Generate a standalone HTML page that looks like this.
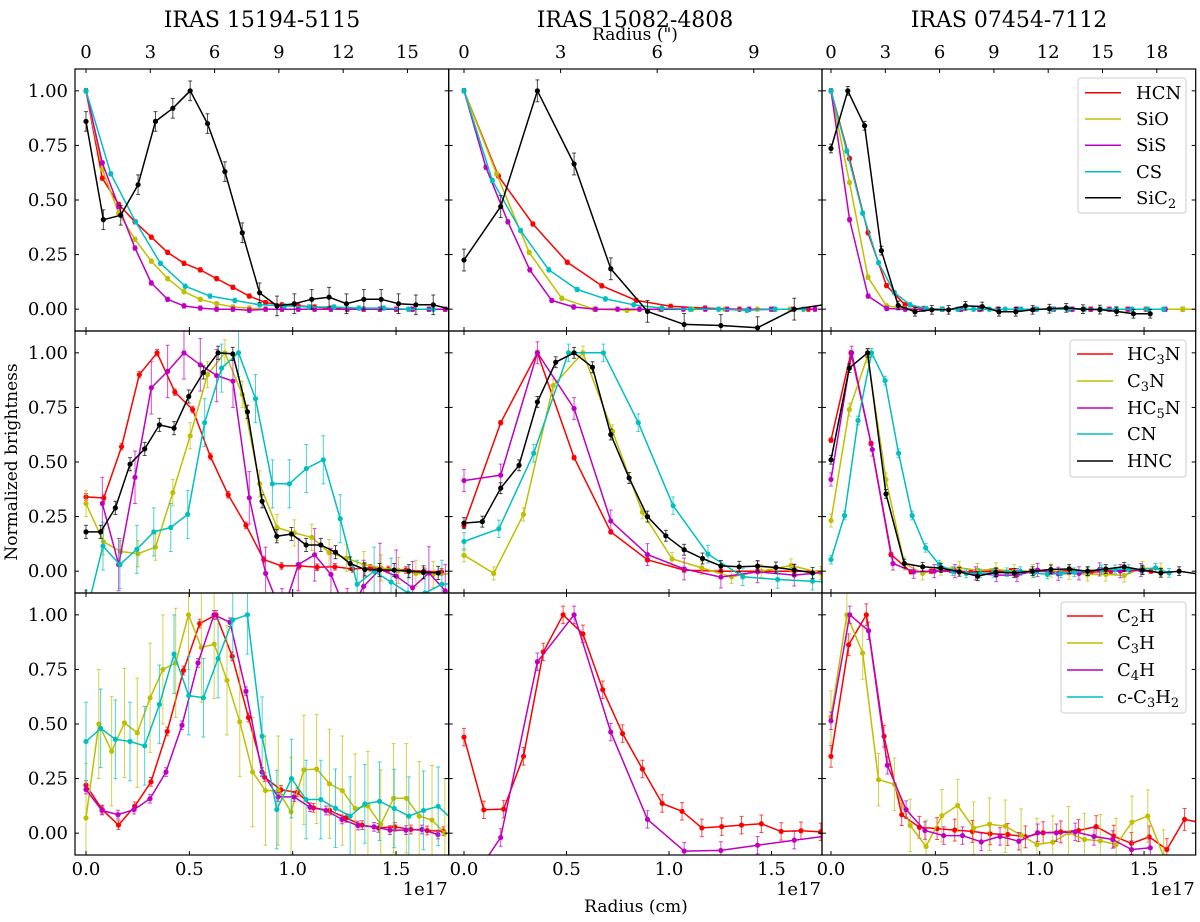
<!DOCTYPE html>
<html><head><meta charset="utf-8"><style>
body{margin:0;background:#fff}
svg text{font-family:"DejaVu Serif","Liberation Serif",serif;fill:#000}
</style></head><body>
<svg id="fig" width="1200" height="917" viewBox="0 0 1200 917" xmlns="http://www.w3.org/2000/svg">
<defs id="defs"></defs>
<g id="titles">
<text x="262" y="27" font-size="22" text-anchor="middle">IRAS 15194-5115</text>
<text x="635" y="27" font-size="22" text-anchor="middle">IRAS 15082-4808</text>
<text x="1009" y="27" font-size="22" text-anchor="middle">IRAS 07454-7112</text>
<text x="635" y="40" font-size="17" text-anchor="middle">Radius (")</text>
<text x="636" y="912" font-size="17" text-anchor="middle">Radius (cm)</text>
<text transform="translate(17,462) rotate(-90)" font-size="17" text-anchor="middle">Normalized brightness</text>
</g>
<g id="plots"></g>
<g id="legends">
<g>
<rect x="1078" y="78" width="108" height="135" rx="3" fill="#fff" fill-opacity="0.85" stroke="#ccc"/>
<line x1="1085" x2="1121" y1="92.7" y2="92.7" stroke="#ff0000" stroke-width="1.5"/><text x="1136" y="99" font-size="18">HCN</text>
<line x1="1085" x2="1121" y1="119" y2="119" stroke="#bfbf00" stroke-width="1.5"/><text x="1136" y="125" font-size="18">SiO</text>
<line x1="1085" x2="1121" y1="145.3" y2="145.3" stroke="#bf00bf" stroke-width="1.5"/><text x="1136" y="151" font-size="18">SiS</text>
<line x1="1085" x2="1121" y1="171.7" y2="171.7" stroke="#00bfbf" stroke-width="1.5"/><text x="1136" y="178" font-size="18">CS</text>
<line x1="1085" x2="1121" y1="197.7" y2="197.7" stroke="#000" stroke-width="1.5"/><text x="1136" y="204" font-size="18">SiC<tspan font-size="13" dy="4">2</tspan></text>
</g>
<g>
<rect x="1070" y="340" width="116" height="137" rx="3" fill="#fff" fill-opacity="0.85" stroke="#ccc"/>
<line x1="1077" x2="1113" y1="354" y2="354" stroke="#ff0000" stroke-width="1.5"/><text x="1127" y="360" font-size="18">HC<tspan font-size="13" dy="4">3</tspan><tspan dy="-4">N</tspan></text>
<line x1="1077" x2="1113" y1="381" y2="381" stroke="#bfbf00" stroke-width="1.5"/><text x="1127" y="387" font-size="18">C<tspan font-size="13" dy="4">3</tspan><tspan dy="-4">N</tspan></text>
<line x1="1077" x2="1113" y1="408" y2="408" stroke="#bf00bf" stroke-width="1.5"/><text x="1127" y="414" font-size="18">HC<tspan font-size="13" dy="4">5</tspan><tspan dy="-4">N</tspan></text>
<line x1="1077" x2="1113" y1="434" y2="434" stroke="#00bfbf" stroke-width="1.5"/><text x="1127" y="440" font-size="18">CN</text>
<line x1="1077" x2="1113" y1="461" y2="461" stroke="#000" stroke-width="1.5"/><text x="1127" y="467" font-size="18">HNC</text>
</g>
<g>
<rect x="1061" y="602" width="125" height="111" rx="3" fill="#fff" fill-opacity="0.85" stroke="#ccc"/>
<line x1="1067" x2="1103" y1="616" y2="616" stroke="#ff0000" stroke-width="1.5"/><text x="1117" y="622" font-size="18">C<tspan font-size="13" dy="4">2</tspan><tspan dy="-4">H</tspan></text>
<line x1="1067" x2="1103" y1="643" y2="643" stroke="#bfbf00" stroke-width="1.5"/><text x="1117" y="649" font-size="18">C<tspan font-size="13" dy="4">3</tspan><tspan dy="-4">H</tspan></text>
<line x1="1067" x2="1103" y1="670" y2="670" stroke="#bf00bf" stroke-width="1.5"/><text x="1117" y="676" font-size="18">C<tspan font-size="13" dy="4">4</tspan><tspan dy="-4">H</tspan></text>
<line x1="1067" x2="1103" y1="697" y2="697" stroke="#00bfbf" stroke-width="1.5"/><text x="1117" y="703" font-size="18">c-C<tspan font-size="13" dy="4">3</tspan><tspan dy="-4">H</tspan><tspan font-size="13" dy="4">2</tspan></text>
</g>
</g>
</svg>
<script>
// ---- data (values in 1e17 cm steps, normalized brightness) ----
const yTicks = [0, 0.25, 0.5, 0.75, 1.0];
const yTickLabels = ["0.00", "0.25", "0.50", "0.75", "1.00"];
const xTicks = [0, 0.5, 1.0, 1.5];
const xTickLabels = ["0.0", "0.5", "1.0", "1.5"];
const arcTicksL = [0, 3, 6, 9, 12, 15];
const arcTicksM = [0, 3, 6, 9];
const arcTicksR = [0, 3, 6, 9, 12, 15, 18];

const hcnL1 = [1.0,0.6,0.48,0.40,0.33,0.26,0.21,0.18,0.14,0.10,0.06,0.03,0.02,0.015,0.01,0.005,0,0,0,0,0,0,0];
const sioL1 = [1.0,0.64,0.44,0.32,0.22,0.14,0.08,0.045,0.025,0.01,0.005,0,0,0,0,0,0,0,0,0,0,0,0];
const sisL1 = [1.0,0.67,0.47,0.28,0.12,0.045,0.015,0.005,0,0,-0.005,0,0,0,0,0,0,0,0,0,0,0,0];
const csL1 = [1.0,0.62,0.40,0.21,0.105,0.06,0.04,0.02,0.015,0.01,0.01,0.005,0.005,0,0];
const sic2L1 = [0.86,0.41,0.43,0.57,0.86,0.92,1.0,0.85,0.63,0.35,0.075,0.015,0.025,0.045,0.055,0.025,0.045,0.045,0.025,0.02,0.02,0];

const hcnM1 = [1.0,0.61,0.39,0.215,0.107,0.04,0.013,0.005,0,0,0];
const sioM1 = [1.0,0.62,0.26,0.05,0.0,-0.005,0,0,0,0,0];
const sisM1 = [1.0,0.65,0.40,0.18,0.04,0.01,0,0,0,0,0,0,0,0,0,0,0];
const csM1 = [1.0,0.59,0.36,0.18,0.09,0.047,0.02,0.005,0,0,-0.005,0,0];
const sic2M1 = [0.225,0.47,1.0,0.665,0.185,-0.01,-0.07,-0.075,-0.085,0.0,0.025];

const hcnR1 = [1.0,0.69,0.35,0.108,0.02,0.003,0,0,0,0,0,0,0,0,0,0,0,0,0,0];
const sioR1 = [1.0,0.58,0.146,0.015,0.003,0,0,0,0,0,0,0,0,0,0,0,0,0,0,0,0];
const sisR1 = [1.0,0.41,0.06,0.003,0,0,0,0,0,0,0,0,0,0,0,0,0,0,0];
const csR1 = [1.0,0.724,0.44,0.213,0.076,0.02,0.003,0,0,0,0,0,0,0,0,0,0,0,0,0,0,0];
const sic2R1 = [0.736,1.0,0.84,0.268,0.017,-0.012,-0.003,-0.003,0.015,0.012,-0.012,-0.012,-0.003,0.002,0.006,0,-0.002,-0.01,-0.021,-0.021];

const hc3nL2 = [0.34,0.335,0.57,0.90,1.0,0.82,0.74,0.525,0.35,0.21,0.053,0.024,0.024,0.018,0.02,0.01,0.015,0.008,0.005,0,-0.003];
const c3nL2 = [0.31,0.135,0.09,0.08,0.11,0.36,0.62,0.90,1.0,0.81,0.40,0.20,0.175,0.155,0.085,0.06,0.03,0.015,0.003,-0.01,-0.015,-0.012];
const hc5nL2 = [null,0.31,0.03,0.43,0.84,0.915,1.0,0.945,0.896,0.87,0.336,-0.01,-0.2,0.03,0.075,-0.015,-0.2,-0.07,0.008,-0.023,-0.076,-0.008,-0.09];
const cnL2 = [-0.2,0.115,0.03,0.10,0.18,0.20,0.26,0.68,0.93,1.0,0.79,0.40,0.40,0.47,0.51,0.24,-0.06,0.0,-0.05,-0.1,-0.1,-0.06,-0.055];
const hncL2 = [0.18,0.18,0.29,0.49,0.56,0.67,0.655,0.80,0.91,1.0,0.995,0.73,0.32,0.16,0.17,0.12,0.12,0.087,0.035,0.008,0.005,0.005,0,-0.005,-0.008];

const hc3nM2 = [0.21,0.68,1.0,0.52,0.18,0.052,0.005,0,0,0,0];
const c3nM2 = [0.073,-0.01,0.26,0.85,1.0,0.64,0.27,0.056,0.015,-0.026,0,0.026,-0.008];
const hc5nM2 = [0.415,0.44,1.0,0.745,0.23,0.076,0.01,-0.027,-0.003,-0.018,-0.003];
const cnM2 = [0.136,0.194,0.54,1.0,1.0,0.68,0.30,0.078,-0.026,-0.038,-0.046,-0.055];
const hncM2 = [0.22,0.227,0.38,0.485,0.775,0.957,1.0,0.934,0.626,0.427,0.25,0.162,0.098,0.058,0.024,0.02,0.023,0.017,0.006,-0.008];

const hc3nR2 = [0.60,1.0,0.585,0.076,-0.003,0,0.003,-0.003,0,0.002,0,-0.002,0.003,-0.005,0,0.004,0];
const c3nR2 = [0.232,0.74,0.985,0.42,0.035,-0.01,0.012,0.015,0.005,0.008,0,0,0.003,-0.008,-0.015,-0.015,-0.02,0.015,0.008];
const hc5nR2 = [0.42,1.0,0.557,0.035,-0.003,0,0,-0.01,-0.018,-0.018,0.005,-0.012,-0.01,0.008,0,0.005];
const cnR2 = [0.053,0.255,0.69,1.0,0.873,0.54,0.255,0.107,0.03,0,-0.01,-0.01,-0.008,-0.005,0,-0.008,-0.015,-0.01,-0.005,0,0.008,0.008,0.01,0.008,0.015,-0.008];
const hncR2 = [0.51,0.93,1.0,0.354,0.035,0.02,0.014,-0.003,-0.023,-0.005,-0.008,0,0.008,0.01,0,0.01,0.02,0.005,-0.008,0,-0.012];

const c2hL3 = [0.22,0.108,0.037,0.123,0.235,0.466,0.745,0.96,1.0,0.81,0.53,0.256,0.198,0.187,0.116,0.104,0.07,0.037,0.024,0.029,0.017,0.012,0.009];
const c3hL3 = [0.07,0.5,0.375,0.505,0.46,0.62,0.75,0.78,1.0,0.85,0.866,0.70,0.51,0.28,0.195,0.195,0.098,0.29,0.294,0.226,0.195,0.113,0.125,0.04,0.16,0.16,0.078,0.06,0.0];
const c4hL3 = [0.2,0.104,0.085,0.108,0.158,0.28,0.494,0.78,1.0,0.966,0.65,0.28,0.166,0.166,0.119,0.104,0.063,0.035,0.029,0.014,0.014,0.017,-0.006];
const cc3h2L3 = [0.42,0.48,0.43,0.42,0.40,0.59,0.82,0.63,0.62,0.80,0.977,1.0,0.444,0.108,0.25,0.154,0.154,0.114,0.078,0.134,0.146,0.113,0.078,0.104,0.123,0.06];

const c2hM3 = [0.44,0.107,0.11,0.352,0.83,1.0,0.913,0.657,0.456,0.294,0.136,0.1,0.024,0.03,0.037,0.043,0.008,0.011,0.006];
const c4hM3 = [-0.27,-0.02,0.785,1.0,0.463,0.063,-0.082,-0.079,-0.055,-0.032,-0.01];

const c2hR3 = [0.352,0.863,1.0,0.444,0.085,0.027,0.021,0.014,0.008,-0.003,-0.006,-0.017,0.002,0.006,0.012,0.03,-0.014,-0.047,-0.017,-0.075,0.063,0.047];
const c3hR3 = [0.532,1.0,0.825,0.245,0.224,0.035,-0.061,0.08,0.127,0.023,0.041,0.032,-0.009,-0.052,-0.041,0.002,-0.029,-0.035,-0.052,0.05,0.078,-0.105];
const c4hR3 = [0.515,1.0,0.927,0.311,0.108,0.012,-0.011,-0.011,-0.04,-0.015,-0.037,0.002,0.002,0.006,-0.015,-0.029,-0.075,-0.067];

const RED="#ff0000", YEL="#bfbf00", MAG="#bf00bf", CYA="#00bfbf", BLK="#000000";

// ---- layout ----
const cols = [
  {x0:75, x1:448.7, zero:86, k:206.7, arc:21.43, arcTicks:arcTicksL, name:"iras-15194"},
  {x0:448.7, x1:822, zero:464, k:205, arc:32.2, arcTicks:arcTicksM, name:"iras-15082"},
  {x0:822, x1:1195.7, zero:831, k:208.7, arc:18.1, arcTicks:arcTicksR, name:"iras-07454"}
];
const rows = [{top:69, bot:331},{top:331, bot:593},{top:593, bot:855}];
const YMAX = 1.1, YMIN = -0.1;

const panels = [
  [0,0,[["hcn",hcnL1,0.079,RED,0.01],["sio",sioL1,0.079,YEL,0.01],["sis",sisL1,0.079,MAG,0.01],["cs",csL1,0.12,CYA,0.01],["sic2",sic2L1,0.084,BLK,0.045]]],
  [1,0,[["hcn",hcnM1,0.168,RED,0.01],["sio",sioM1,0.159,YEL,0.01],["sis",sisM1,0.107,MAG,0.01],["cs",csM1,0.138,CYA,0.01],["sic2",sic2M1,0.179,BLK,0.05]]],
  [2,0,[["hcn",hcnR1,0.0887,RED,0.01],["sio",sioR1,0.0887,YEL,0.01],["sis",sisR1,0.089,MAG,0.01],["cs",csR1,0.0759,CYA,0.01],["sic2",sic2R1,0.0805,BLK,0.02]]],
  [0,1,[["hc3n",hc3nL2,0.086,RED,0.015],["c3n",c3nL2,0.084,YEL,0.06],["hc5n",hc5nL2,0.079,MAG,0.12],["cn",cnL2,0.082,CYA,0.11],["hnc",hncL2,0.071,BLK,0.03]]],
  [1,1,[["hc3n",hc3nM2,0.179,RED,0.01],["c3n",c3nM2,0.145,YEL,0.03],["hc5n",hc5nM2,0.179,MAG,0.05],["cn",cnM2,0.17,CYA,0.04],["hnc",hncM2,0.0895,BLK,0.025]]],
  [2,1,[["hc3n",hc3nR2,0.0958,RED,0.01],["c3n",c3nR2,0.0878,YEL,0.03],["hc5n",hc5nR2,0.099,MAG,0.03],["cn",cnR2,0.0648,CYA,0.02],["hnc",hncR2,0.0878,BLK,0.02]]],
  [0,2,[["c2h",c2hL3,0.0786,RED,0.02],["c3h",c3hL3,0.062,YEL,0.25],["c4h",c4hL3,0.0774,MAG,0.02],["c-c3h2",cc3h2L3,0.071,CYA,0.18]]],
  [1,2,[["c2h",c2hM3,0.0967,RED,0.04],["c4h",c4hM3,0.179,MAG,0.04]]],
  [2,2,[["c2h",c2hR3,0.0847,RED,0.05],["c3h",c3hR3,0.0759,YEL,0.12],["c4h",c4hR3,0.09,MAG,0.04]]]
];

const NS = "http://www.w3.org/2000/svg";
const plots = document.getElementById("plots");
const defs = document.getElementById("defs");
function mk(tag, attrs, parent){ const e=document.createElementNS(NS,tag); for(const k in attrs) e.setAttribute(k,attrs[k]); parent.appendChild(e); return e; }
function xS(col, v){ return col.zero + v*col.k; }
function yS(row, v){ return row.top + (YMAX - v)*(row.bot-row.top)/(YMAX-YMIN); }

panels.forEach(function(p, pi){
  const col = cols[p[0]], row = rows[p[1]];
  const g = mk("g", {}, plots);
  
  
  const cp = mk("clipPath", {id:"clip"+pi}, defs);
  mk("rect", {x:col.x0, y:row.top, width:col.x1-col.x0, height:row.bot-row.top}, cp);
  const data = mk("g", {"clip-path":"url(#clip"+pi+")"}, g);
  p[2].forEach(function(s){
    const sg = mk("g", {}, data);
    
    
    const vals = s[1], step = s[2], color = s[3], err = s[4];
    let pts = [];
    vals.forEach(function(v, i){
      if (v === null) return;
      const x = xS(col, i*step), y = yS(row, v);
      pts.push(x.toFixed(1)+","+y.toFixed(1));
    });
    const pl = mk("polyline", {points:pts.join(" "), fill:"none", stroke:color, "stroke-width":1.5, "stroke-linejoin":"round"}, sg);
    
    
    vals.forEach(function(v, i){
      if (v === null) return;
      const x = xS(col, i*step), y = yS(row, v);
      const ey = (row.bot-row.top)/(YMAX-YMIN)*err;
      mk("line", {x1:x, x2:x, y1:y-ey, y2:y+ey, stroke:color, "stroke-width":1, "stroke-opacity":0.7}, sg);
      mk("line", {x1:x-2, x2:x+2, y1:y-ey, y2:y-ey, stroke:color, "stroke-width":1, "stroke-opacity":0.7}, sg);
      mk("line", {x1:x-2, x2:x+2, y1:y+ey, y2:y+ey, stroke:color, "stroke-width":1, "stroke-opacity":0.7}, sg);
      const c = mk("circle", {cx:x, cy:y, r:2.6, fill:color}, sg);
      
      
    });
  });
  const fr = mk("rect", {x:col.x0, y:row.top, width:col.x1-col.x0, height:row.bot-row.top, fill:"none", stroke:"#000", "stroke-width":1.2}, g);
  
  
  yTicks.forEach(function(t, i){
    const y = yS(row, t);
    mk("line", {x1:col.x0, x2:col.x0+4, y1:y, y2:y, stroke:"#000"}, g);
    mk("line", {x1:col.x1, x2:col.x1-4, y1:y, y2:y, stroke:"#000"}, g);
    if (p[0]===0){
      const tx = mk("text", {x:68, y:y+6, "font-size":18, "text-anchor":"end"}, g);
      tx.textContent = yTickLabels[i];
      
      
    }
  });
  xTicks.forEach(function(t, i){
    const x = xS(col, t);
    mk("line", {x1:x, x2:x, y1:row.bot, y2:row.bot-4, stroke:"#000"}, g);
    if (p[1]>0) mk("line", {x1:x, x2:x, y1:row.top, y2:row.top+4, stroke:"#000"}, g);
    if (p[1]===2){
      const tx = mk("text", {x:x, y:875, "font-size":18, "text-anchor":"middle"}, g);
      tx.textContent = xTickLabels[i];
      
      
    }
  });
  if (p[1]===2){
    const ex = mk("text", {x:col.x1-1, y:895, "font-size":18, "text-anchor":"end"}, g);
    ex.textContent = "1e17";
    
    
  }
  if (p[1]===0){
    col.arcTicks.forEach(function(t){
      const x = col.zero + t*col.arc;
      mk("line", {x1:x, x2:x, y1:row.top, y2:row.top+4, stroke:"#000"}, g);
      const tx = mk("text", {x:x, y:58, "font-size":18, "text-anchor":"middle"}, g);
      tx.textContent = String(t);
      
      
    });
  }
});
document.getElementById("fig").appendChild(document.getElementById("legends"));
</script>
</body></html>
